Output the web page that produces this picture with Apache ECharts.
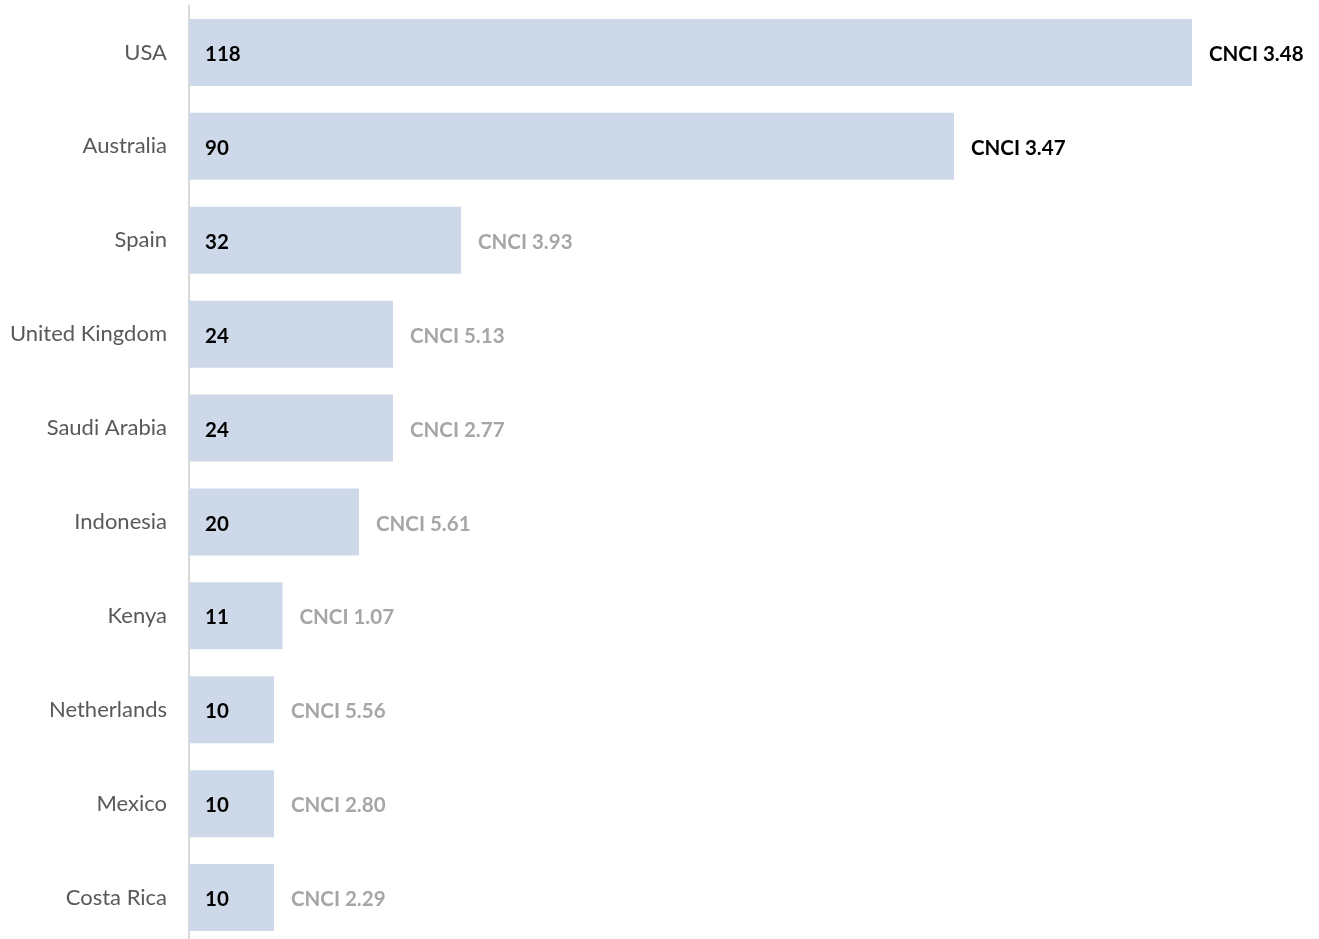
<!DOCTYPE html>
<html>
<head>
<meta charset="utf-8">
<script src="https://cdn.jsdelivr.net/npm/echarts@6/dist/echarts.min.js"></script>
<style>
html,body{margin:0;padding:0;background:#fff;overflow:hidden;}
#chart{width:1319px;height:950px;}
</style>
</head>
<body>
<div id="chart"></div>
<script>
const countries = ['USA','Australia','Spain','United Kingdom','Saudi Arabia','Indonesia','Kenya','Netherlands','Mexico','Costa Rica'];
const counts = [118, 90, 32, 24, 24, 20, 11, 10, 10, 10];
const cnci = ['3.48','3.47','3.93','5.13','2.77','5.61','1.07','5.56','2.80','2.29'];
const highlighted = [true, true, false, false, false, false, false, false, false, false];

const FONT = 'Lato, "Open Sans", sans-serif';
const chart = echarts.init(document.getElementById('chart'));
chart.setOption({
  animation: false,
  grid: { left: 189, top: 5.5, width: 1105, height: 939, containLabel: false },
  xAxis: { type: 'value', min: 0, max: 130, show: false },
  yAxis: {
    type: 'category', data: countries, inverse: true,
    axisLine: { show: true, lineStyle: { color: '#d9d9d9', width: 2 } },
    axisTick: { show: false },
    axisLabel: { color: '#595959', fontSize: 22, fontFamily: FONT, margin: 22, padding: [0, 0, 2, 0] }
  },
  series: [
    {
      type: 'bar', data: counts, barCategoryGap: '28.6%',
      itemStyle: { color: '#cdd9e8' },
      label: { show: true, position: 'insideLeft', distance: 16, offset: [0, 2], color: '#000', fontWeight: 'bold', fontSize: 20.5, fontFamily: FONT },
      z: 3
    },
    {
      type: 'bar', data: counts, barGap: '-100%', barCategoryGap: '28.6%',
      itemStyle: { color: 'rgba(0,0,0,0)' },
      label: {
        show: true, position: 'right', distance: 17, offset: [0, 2], fontFamily: FONT,
        formatter: p => (highlighted[p.dataIndex] ? '{b|' : '{g|') + 'CNCI ' + cnci[p.dataIndex] + '}',
        rich: {
          b: { color: '#000', fontWeight: 'bold', fontSize: 20.5, fontFamily: FONT },
          g: { color: '#a6a6a6', fontWeight: 'bold', fontSize: 20.5, fontFamily: FONT }
        }
      },
      z: 4
    }
  ]
});
</script>
</body>
</html>
